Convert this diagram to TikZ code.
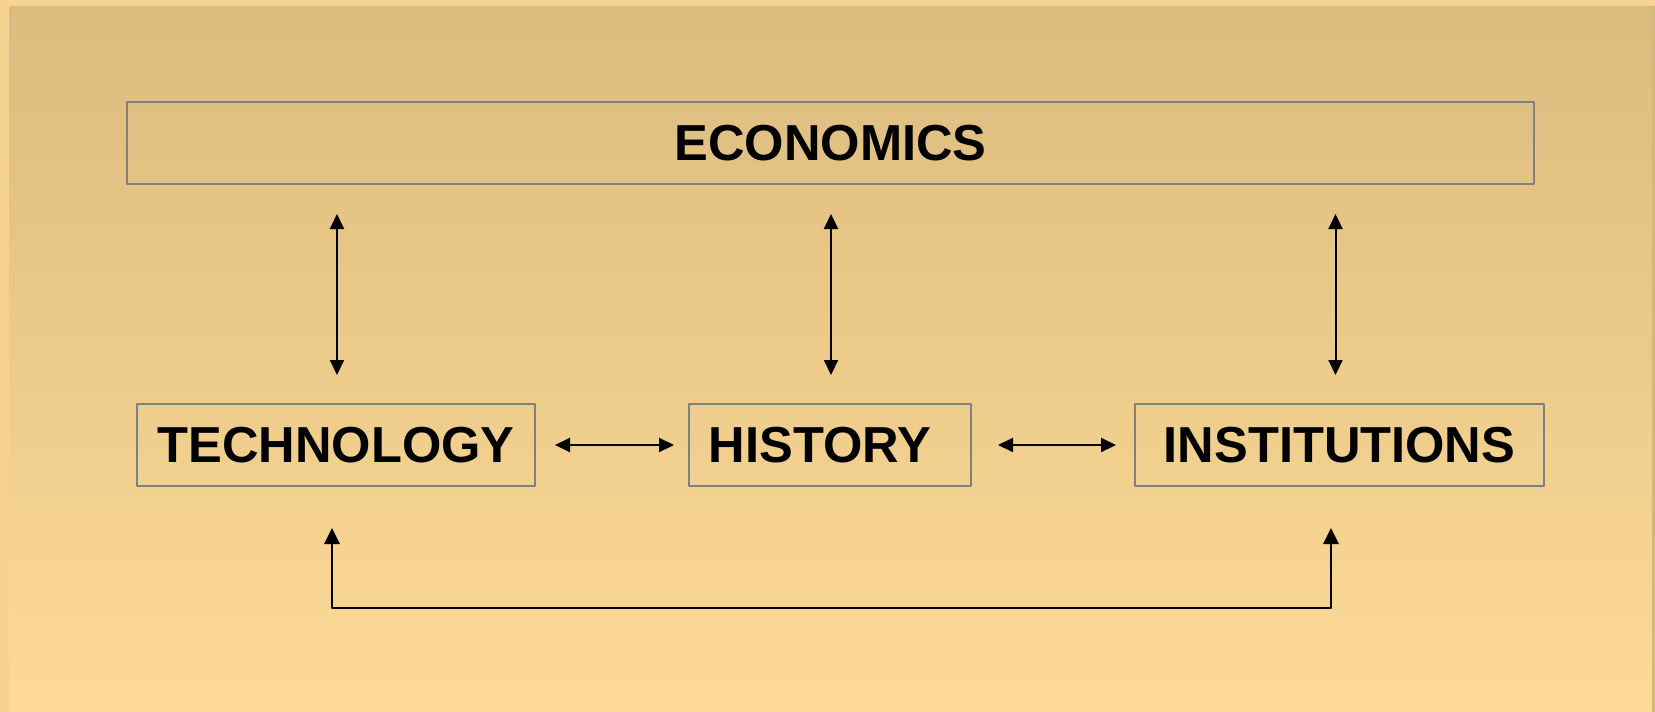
\documentclass[tikz,border=0pt]{standalone}
\usepackage{fontspec}
\setmainfont{Liberation Sans}
\usetikzlibrary{arrows.meta}
\definecolor{framecol}{HTML}{F6D390}
\definecolor{toppanel}{HTML}{DBBB7F}
\definecolor{botpanel}{HTML}{FDDA96}
\definecolor{edgecol}{HTML}{D6B77B}
\definecolor{boxgray}{HTML}{808080}
\begin{document}
\begin{tikzpicture}[x=0.5pt,y=-0.5pt,>={Triangle[length=7.5pt,width=7pt]}, line join=round,
	box/.style={draw=boxgray, line width=1pt, inner sep=0pt, minimum height=41pt, font=\fontsize{25.3}{30}\selectfont\bfseries},
	link/.style={<->, line width=1pt}]
	\useasboundingbox (0,0) rectangle (1655,712);
	% background
	\fill[framecol] (0,0) rectangle (1655,712);
	\shade[top color=toppanel, bottom color=botpanel] (9,6) rectangle (1653,712);
	\fill[edgecol] (1652,6) rectangle (1655,712);
	% boxes
	\node[box, minimum width=703.5pt] (econ) at (830.5,143) {ECONOMICS};
	\node[box, minimum width=199pt] (tech) at (336,445) {TECHNOLOGY};
	\node[box, minimum width=141pt] (hist) at (830,445) {HISTORY\hspace*{10pt}};
	\node[box, minimum width=204.5pt] (inst) at (1339.5,445) {INSTITUTIONS};
	% vertical links
	\draw[link, shorten <=14.5pt, shorten >=14pt] ([xshift=0.5pt]econ.south -| tech.north) -- ([xshift=0.5pt]tech.north);
	\draw[link, shorten <=14.5pt, shorten >=14pt] ([xshift=0.5pt]econ.south -| hist.north) -- ([xshift=0.5pt]hist.north);
	\draw[link, shorten <=14.5pt, shorten >=14pt] ([xshift=-2pt]econ.south -| inst.north) -- ([xshift=-2pt]inst.north);
	% horizontal links
	\draw[link, shorten <=9.5pt, shorten >=7pt] (tech.east) -- (hist.west);
	\draw[link, shorten <=13pt, shorten >=9pt] (hist.east) -- (inst.west);
	% bottom loop
	\coordinate (bl) at (332,608);
	\coordinate (br) at (1331,608);
	\draw[link, line width=1.4pt, >={Triangle[length=8pt,width=7.5pt]}, shorten <=20.5pt, shorten >=20.5pt] (tech.south -| bl) -- (bl) -- (br) -- (inst.south -| br);
\end{tikzpicture}
\end{document}
